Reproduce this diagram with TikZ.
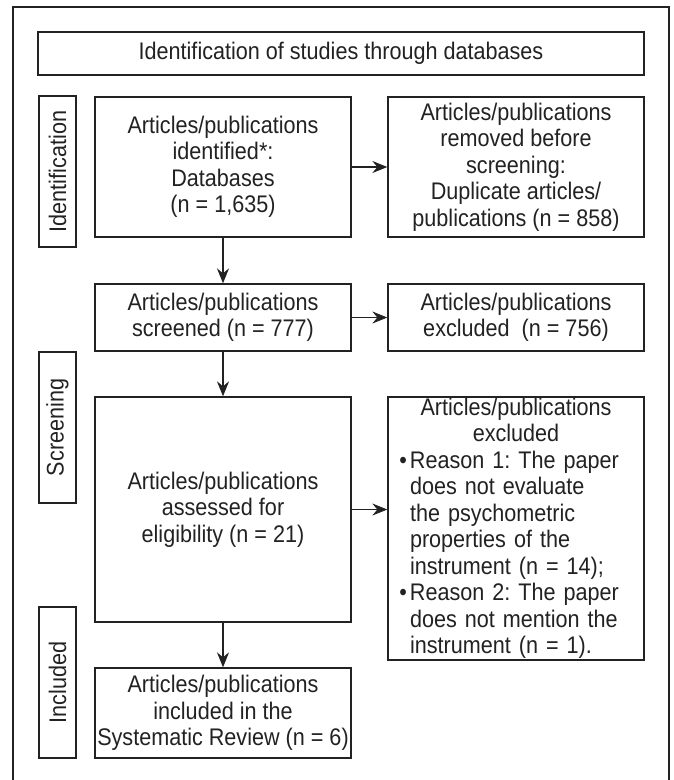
\documentclass[tikz,border=0pt]{standalone}
\usepackage{fontspec}
\setmainfont{Liberation Sans}[FakeStretch=0.9]
\usetikzlibrary{arrows.meta}
\definecolor{ink}{HTML}{222222}
\begin{document}
\begin{tikzpicture}[x=1pt,y=-1pt,
  every node/.style={text=ink, font=\fontsize{24}{26.5}\selectfont\frenchspacing},
  box/.style={draw=ink, line width=1.3pt, inner sep=0pt, align=center, minimum width=256pt},
  lab/.style={draw=ink, line width=1.3pt, inner sep=0pt, rotate=90, minimum width=151pt, minimum height=37pt},
  arr/.style={draw=ink, line width=1.1pt, -{Stealth[length=15pt,width=12pt,inset=5pt]}}]
\useasboundingbox (0,0) rectangle (673,780);
\fill[white] (0,0) rectangle (673,780);
% outer frame
\draw[ink, line width=1.3pt] (13,782) -- (13,7) -- (669,7) -- (669,782);
% title
\node[box, minimum width=606pt, minimum height=43pt] (title) at (341,53.5) {Identification of studies through databases};
% stage labels
\node[lab] (labId) at (57.5,171.5) {Identification};
\node[lab] (labScr) at (57.5,427.5) {Screening};
\node[lab] (labInc) at (57.5,682.5) {Included};
% boxes
\node[box, minimum height=140pt] (A) at (223,167) {Articles/publications\\identified*:\\Databases\\(n = 1,635)};
\node[box, minimum height=140pt] (B) at (516,167) {Articles/publications\\removed before\\screening:\\Duplicate articles/\\publications (n = 858)};
\node[box, minimum height=67pt] (C) at (223,317.5) {Articles/publications\\screened (n = 777)};
\node[box, minimum height=67pt] (E) at (516,317.5) {Articles/publications\\excluded\ \ (n = 756)};
\node[box, minimum height=225pt] (D) at (223,509.5) {Articles/publications\\assessed for\\eligibility (n = 21)};
\node[box, minimum height=263pt, text width=236pt, align=left] (G) at (516,528.5) {\parbox{236pt}{\centering Articles/publications\\excluded\par
\raggedright\leftskip=12pt
\leavevmode\llap{\textbullet\hspace{3pt}}Reason 1: The paper\\does not evaluate\\the psychometric\\properties of the\\instrument (n = 14);\par
\leavevmode\llap{\textbullet\hspace{3pt}}Reason 2: The paper\\does not mention the\\instrument (n = 1).}};
\node[box, minimum height=90pt] (F) at (223,713) {Articles/publications\\included in the\\Systematic Review (n = 6)};
% connectors
\draw[arr] (A.east) -- (B.west);
\draw[arr] (A.south) -- (C.north);
\draw[arr] (C.east) -- (E.west);
\draw[arr] (C.south) -- (D.north);
\draw[arr] (D.east) -- (D.east -| G.west);
\draw[arr] (D.south) -- (F.north);
\end{tikzpicture}
\end{document}
